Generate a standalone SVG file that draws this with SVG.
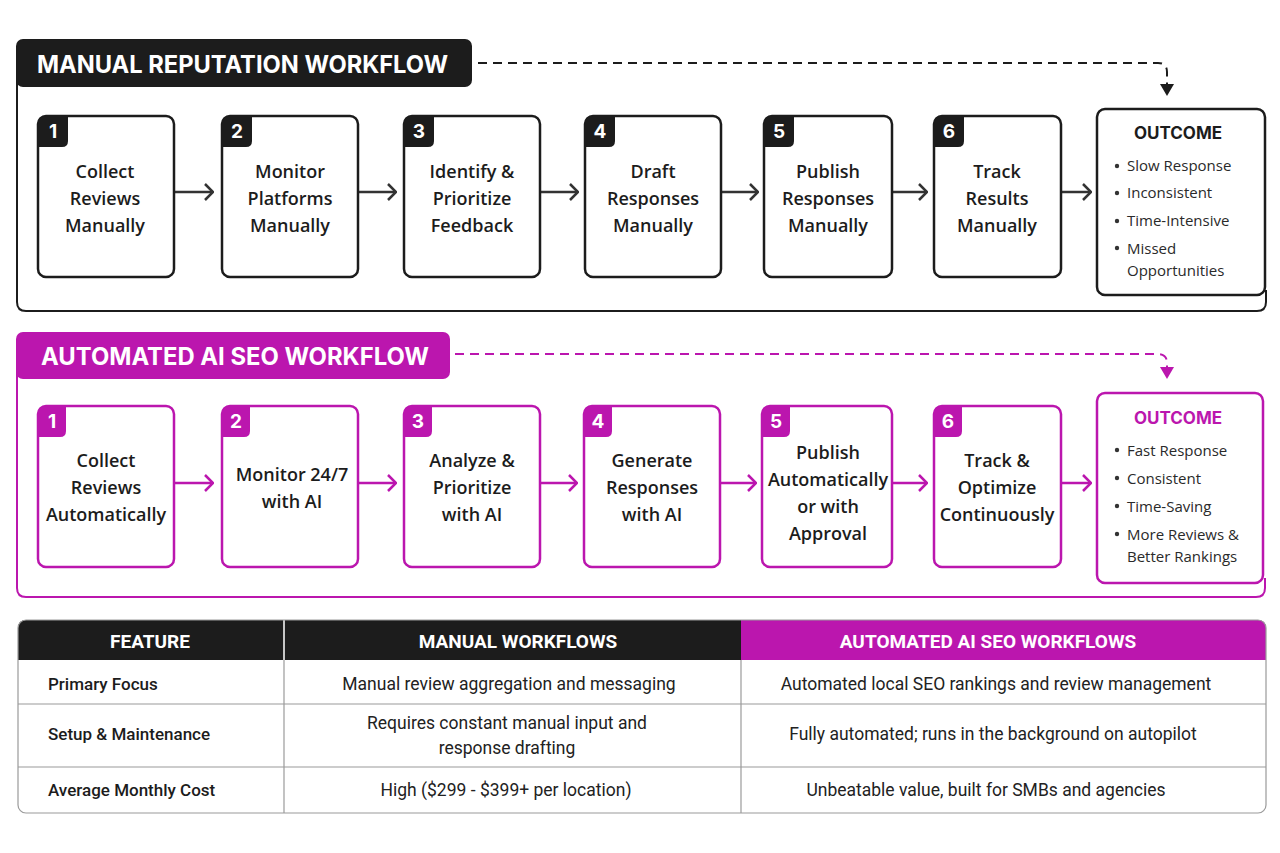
<svg xmlns="http://www.w3.org/2000/svg" width="1280" height="853" viewBox="0 0 1280 853">
<defs>
<style>
.bg{fill:#ffffff}
.boxK{fill:#fff;stroke:#1c1c1c;stroke-width:2.5}
.boxP{fill:#fff;stroke:#bb16ae;stroke-width:2.5}
.frameK{fill:none;stroke:#1c1c1c;stroke-width:2}
.frameP{fill:none;stroke:#bb16ae;stroke-width:2}
.badgeK{fill:#1c1c1c}
.badgeP{fill:#bb16ae}
.num{font-family:Inter,"Liberation Sans",sans-serif;font-weight:700;font-size:19px;fill:#fff;text-anchor:middle}
.title{font-family:Inter,"Liberation Sans",sans-serif;font-weight:700;font-size:24px;fill:#fff}
.step{font-family:"Open Sans","Liberation Sans",sans-serif;font-weight:600;font-size:18px;fill:#1c1c1c;text-anchor:middle}
.oh{font-family:Inter,"Liberation Sans",sans-serif;font-weight:700;font-size:17px;text-anchor:middle}
.ob{font-family:"Open Sans","Liberation Sans",sans-serif;font-size:15px;fill:#2a2a2a}
.arrK{fill:none;stroke:#333;stroke-width:2.5}
.arrP{fill:none;stroke:#bb16ae;stroke-width:2.5}
.dashK{fill:none;stroke:#1c1c1c;stroke-width:2;stroke-dasharray:9 6}
.dashP{fill:none;stroke:#bb16ae;stroke-width:2;stroke-dasharray:9 6}
.th{font-family:Roboto,"Liberation Sans",sans-serif;font-weight:700;font-size:19px;fill:#fff;text-anchor:middle}
.tf{font-family:Roboto,"Liberation Sans",sans-serif;font-weight:500;font-size:17px;fill:#1c1c1c}
.tc{font-family:Roboto,"Liberation Sans",sans-serif;font-size:17.5px;fill:#222;text-anchor:middle}
.grid{stroke:#9a9a9a;stroke-width:1.2;fill:none}
</style>
<marker id="mK" viewBox="0 0 10 18" refX="9" refY="9" markerWidth="10" markerHeight="18" markerUnits="userSpaceOnUse" orient="auto">
<path d="M1,1 L9,9 L1,17" fill="none" stroke="#333" stroke-width="2.5"/>
</marker>
<marker id="mP" viewBox="0 0 10 18" refX="9" refY="9" markerWidth="10" markerHeight="18" markerUnits="userSpaceOnUse" orient="auto">
<path d="M1,1 L9,9 L1,17" fill="none" stroke="#bb16ae" stroke-width="2.5"/>
</marker>
<marker id="tK" viewBox="0 0 14 12" refX="7" refY="12" markerWidth="14" markerHeight="12" markerUnits="userSpaceOnUse" orient="0">
<path d="M0,0 L14,0 L7,12 Z" fill="#1c1c1c"/>
</marker>
<marker id="tP" viewBox="0 0 14 12" refX="7" refY="12" markerWidth="14" markerHeight="12" markerUnits="userSpaceOnUse" orient="0">
<path d="M0,0 L14,0 L7,12 Z" fill="#bb16ae"/>
</marker>
</defs>
<rect class="bg" x="0" y="0" width="1280" height="853"/>

<!-- Manual section -->
<g id="manual-frame">
<path class="frameK" d="M17,80 V302 Q17,311 26,311 H1257 Q1266,311 1266,302 V290"/>
<rect x="16" y="39" width="456" height="48" rx="7" fill="#1c1c1c"/>
<text class="title" x="37" y="73" textLength="411" lengthAdjust="spacingAndGlyphs">MANUAL REPUTATION WORKFLOW</text>
</g>

<g id="connectors">
<path class="dashK" d="M478,63 H1158 Q1167,63 1167,72 V96" marker-end="url(#tK)"/>
<line class="arrK" x1="175" y1="192" x2="213" y2="192" marker-end="url(#mK)"/>
<line class="arrK" x1="359" y1="192" x2="396" y2="192" marker-end="url(#mK)"/>
<line class="arrK" x1="541" y1="192" x2="578" y2="192" marker-end="url(#mK)"/>
<line class="arrK" x1="722" y1="192" x2="758" y2="192" marker-end="url(#mK)"/>
<line class="arrK" x1="893" y1="192" x2="927" y2="192" marker-end="url(#mK)"/>
<line class="arrK" x1="1062" y1="192" x2="1091" y2="192" marker-end="url(#mK)"/>
<path class="dashP" d="M455,354 H1158 Q1167,354 1167,363 V379" marker-end="url(#tP)"/>
<line class="arrP" x1="175" y1="483" x2="213" y2="483" marker-end="url(#mP)"/>
<line class="arrP" x1="359" y1="483" x2="396" y2="483" marker-end="url(#mP)"/>
<line class="arrP" x1="541" y1="483" x2="577" y2="483" marker-end="url(#mP)"/>
<line class="arrP" x1="721" y1="483" x2="756" y2="483" marker-end="url(#mP)"/>
<line class="arrP" x1="893" y1="483" x2="927" y2="483" marker-end="url(#mP)"/>
<line class="arrP" x1="1062" y1="483" x2="1091" y2="483" marker-end="url(#mP)"/>
</g>

<g id="m1">
<rect class="boxK" x="38" y="116" width="136" height="161" rx="8"/>
<path class="badgeK" d="M38,147 V124 Q38,116 46,116 H68 V141 Q68,147 62,147 Z"/>
<text class="num" x="53" y="138">1</text>
<text class="step" x="105" y="178">Collect</text>
<text class="step" x="105" y="205">Reviews</text>
<text class="step" x="105" y="232">Manually</text>
</g>
<g id="m2">
<rect class="boxK" x="222" y="116" width="136" height="161" rx="8"/>
<path class="badgeK" d="M222,147 V124 Q222,116 230,116 H252 V141 Q252,147 246,147 Z"/>
<text class="num" x="237" y="138">2</text>
<text class="step" x="290" y="178">Monitor</text>
<text class="step" x="290" y="205">Platforms</text>
<text class="step" x="290" y="232">Manually</text>
</g>
<g id="m3">
<rect class="boxK" x="404" y="116" width="136" height="161" rx="8"/>
<path class="badgeK" d="M404,147 V124 Q404,116 412,116 H434 V141 Q434,147 428,147 Z"/>
<text class="num" x="419" y="138">3</text>
<text class="step" x="472" y="178">Identify &amp;</text>
<text class="step" x="472" y="205">Prioritize</text>
<text class="step" x="472" y="232">Feedback</text>
</g>
<g id="m4">
<rect class="boxK" x="585" y="116" width="136" height="161" rx="8"/>
<path class="badgeK" d="M585,147 V124 Q585,116 593,116 H615 V141 Q615,147 609,147 Z"/>
<text class="num" x="600" y="138">4</text>
<text class="step" x="653" y="178">Draft</text>
<text class="step" x="653" y="205">Responses</text>
<text class="step" x="653" y="232">Manually</text>
</g>
<g id="m5">
<rect class="boxK" x="764" y="116" width="128" height="161" rx="8"/>
<path class="badgeK" d="M764,147 V124 Q764,116 772,116 H794 V141 Q794,147 788,147 Z"/>
<text class="num" x="779" y="138">5</text>
<text class="step" x="828" y="178">Publish</text>
<text class="step" x="828" y="205">Responses</text>
<text class="step" x="828" y="232">Manually</text>
</g>
<g id="m6">
<rect class="boxK" x="934" y="116" width="127" height="161" rx="8"/>
<path class="badgeK" d="M934,147 V124 Q934,116 942,116 H964 V141 Q964,147 958,147 Z"/>
<text class="num" x="949" y="138">6</text>
<text class="step" x="997" y="178">Track</text>
<text class="step" x="997" y="205">Results</text>
<text class="step" x="997" y="232">Manually</text>
</g>
<g id="m-outcome">
<rect class="boxK" x="1097" y="109" width="168" height="186" rx="8"/>
<text class="oh" x="1178" y="139" fill="#1c1c1c">OUTCOME</text>
<circle cx="1117" cy="166" r="2.2" fill="#333"/>
<text class="ob" x="1127" y="171">Slow Response</text>
<circle cx="1117" cy="193" r="2.2" fill="#333"/>
<text class="ob" x="1127" y="198">Inconsistent</text>
<circle cx="1117" cy="221" r="2.2" fill="#333"/>
<text class="ob" x="1127" y="226">Time-Intensive</text>
<circle cx="1117" cy="248" r="2.2" fill="#333"/>
<text class="ob" x="1127" y="254">Missed</text>
<text class="ob" x="1127" y="276">Opportunities</text>
</g>

<!-- Automated section -->
<g id="auto-frame">
<path class="frameP" d="M17,370 V588 Q17,597 26,597 H1256 Q1265,597 1265,588 V578"/>
<rect x="16" y="332" width="434" height="47" rx="7" fill="#bb16ae"/>
<text class="title" x="41" y="365" textLength="388" lengthAdjust="spacingAndGlyphs">AUTOMATED AI SEO WORKFLOW</text>
</g>
<g id="a1">
<rect class="boxP" x="38" y="406" width="136" height="161" rx="8"/>
<path class="badgeP" d="M38,437 V414 Q38,406 46,406 H66 V431 Q66,437 60,437 Z"/>
<text class="num" x="52" y="428">1</text>
<text class="step" x="106" y="467">Collect</text>
<text class="step" x="106" y="494">Reviews</text>
<text class="step" x="106" y="521">Automatically</text>
</g>
<g id="a2">
<rect class="boxP" x="222" y="406" width="136" height="161" rx="8"/>
<path class="badgeP" d="M222,437 V414 Q222,406 230,406 H250 V431 Q250,437 244,437 Z"/>
<text class="num" x="236" y="428">2</text>
<text class="step" x="292" y="481">Monitor 24/7</text>
<text class="step" x="292" y="508">with AI</text>
</g>
<g id="a3">
<rect class="boxP" x="404" y="406" width="136" height="161" rx="8"/>
<path class="badgeP" d="M404,437 V414 Q404,406 412,406 H432 V431 Q432,437 426,437 Z"/>
<text class="num" x="418" y="428">3</text>
<text class="step" x="472" y="467">Analyze &amp;</text>
<text class="step" x="472" y="494">Prioritize</text>
<text class="step" x="472" y="521">with AI</text>
</g>
<g id="a4">
<rect class="boxP" x="584" y="406" width="136" height="161" rx="8"/>
<path class="badgeP" d="M584,437 V414 Q584,406 592,406 H612 V431 Q612,437 606,437 Z"/>
<text class="num" x="598" y="428">4</text>
<text class="step" x="652" y="467">Generate</text>
<text class="step" x="652" y="494">Responses</text>
<text class="step" x="652" y="521">with AI</text>
</g>
<g id="a5">
<rect class="boxP" x="762" y="406" width="130" height="161" rx="8"/>
<path class="badgeP" d="M762,437 V414 Q762,406 770,406 H790 V431 Q790,437 784,437 Z"/>
<text class="num" x="776" y="428">5</text>
<text class="step" x="828" y="459">Publish</text>
<text class="step" x="828" y="486">Automatically</text>
<text class="step" x="828" y="513">or with</text>
<text class="step" x="828" y="540">Approval</text>
</g>
<g id="a6">
<rect class="boxP" x="934" y="406" width="127" height="161" rx="8"/>
<path class="badgeP" d="M934,437 V414 Q934,406 942,406 H962 V431 Q962,437 956,437 Z"/>
<text class="num" x="948" y="428">6</text>
<text class="step" x="997" y="467">Track &amp;</text>
<text class="step" x="997" y="494">Optimize</text>
<text class="step" x="997" y="521">Continuously</text>
</g>
<g id="a-outcome">
<rect class="boxP" x="1097" y="393" width="166" height="190" rx="8"/>
<text class="oh" x="1178" y="424" fill="#bb16ae">OUTCOME</text>
<circle cx="1117" cy="450" r="2.2" fill="#333"/>
<text class="ob" x="1127" y="456">Fast Response</text>
<circle cx="1117" cy="478" r="2.2" fill="#333"/>
<text class="ob" x="1127" y="484">Consistent</text>
<circle cx="1117" cy="506" r="2.2" fill="#333"/>
<text class="ob" x="1127" y="512">Time-Saving</text>
<circle cx="1117" cy="534" r="2.2" fill="#333"/>
<text class="ob" x="1127" y="540">More Reviews &amp;</text>
<text class="ob" x="1127" y="562">Better Rankings</text>
</g>

<!-- Table -->
<g id="table">
<path d="M18,660 V628 Q18,620 26,620 H741 V660 Z" fill="#1c1c1c"/>
<path d="M741,620 H1258 Q1266,620 1266,628 V660 H741 Z" fill="#bb16ae"/>
<line x1="284" y1="620" x2="284" y2="660" stroke="#fff" stroke-width="1.5"/>
<rect class="grid" x="18" y="620" width="1248" height="193" rx="8"/>
<line class="grid" x1="18" y1="704" x2="1266" y2="704"/>
<line class="grid" x1="18" y1="767" x2="1266" y2="767"/>
<line class="grid" x1="284" y1="660" x2="284" y2="813"/>
<line class="grid" x1="741" y1="660" x2="741" y2="813"/>
<text class="th" x="150" y="648">FEATURE</text>
<text class="th" x="518" y="648">MANUAL WORKFLOWS</text>
<text class="th" x="988" y="648">AUTOMATED AI SEO WORKFLOWS</text>
<text class="tf" x="48" y="690">Primary Focus</text>
<text class="tf" x="48" y="740">Setup &amp; Maintenance</text>
<text class="tf" x="48" y="796">Average Monthly Cost</text>
<text class="tc" x="509" y="690">Manual review aggregation and messaging</text>
<text class="tc" x="507" y="729">Requires constant manual input and</text>
<text class="tc" x="507" y="754">response drafting</text>
<text class="tc" x="506" y="796">High ($299 - $399+ per location)</text>
<text class="tc" x="996" y="690">Automated local SEO rankings and review management</text>
<text class="tc" x="993" y="740">Fully automated; runs in the background on autopilot</text>
<text class="tc" x="986" y="796">Unbeatable value, built for SMBs and agencies</text>
</g>
</svg>
